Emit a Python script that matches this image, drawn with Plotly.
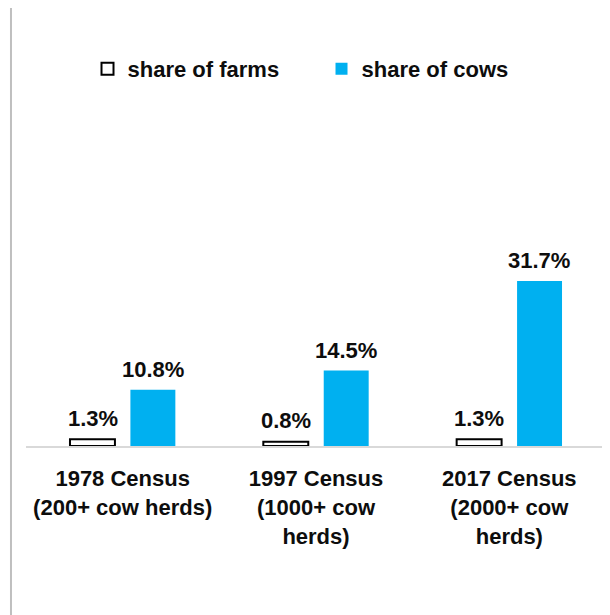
import plotly.graph_objects as go

categories = ["1978 Census<br>(200+ cow herds)", "1997 Census<br>(1000+ cow<br>herds)", "2017 Census<br>(2000+ cow<br>herds)"]
share_farms = [1.3, 0.8, 1.3]
share_cows = [10.8, 14.5, 31.7]
labels_farms = ["1.3%", "0.8%", "1.3%"]
labels_cows = ["10.8%", "14.5%", "31.7%"]

FONT = "Liberation Sans, Arial, sans-serif"
TXT = "#0d0d0d"

fig = go.Figure()
fig.add_trace(go.Bar(
    x=categories, y=share_farms, name="share of farms",
    marker=dict(color="white", line=dict(color="#000000", width=2)),
))
fig.add_trace(go.Bar(
    x=categories, y=share_cows, name="share of cows",
    marker=dict(color="#00B0F0", line=dict(width=0)),
))

for cat, v, t in zip(categories, share_farms, labels_farms):
    fig.add_annotation(x=cat, y=v, text=f"<b>{t}</b>", showarrow=False,
                       xshift=-30, yshift=21, yanchor="middle",
                       font=dict(family=FONT, size=22, color=TXT))
for cat, v, t in zip(categories, share_cows, labels_cows):
    fig.add_annotation(x=cat, y=v, text=f"<b>{t}</b>", showarrow=False,
                       xshift=30, yshift=20, yanchor="middle",
                       font=dict(family=FONT, size=22, color=TXT))

# left border line
fig.add_shape(type="line", xref="paper", yref="paper",
              x0=-0.0259, x1=-0.0259, y0=-0.6, y1=1.4,
              line=dict(color="#BFBFBF", width=2))

fig.update_layout(
    width=610, height=615,
    margin=dict(l=18, r=12, t=92, b=177),
    paper_bgcolor="white", plot_bgcolor="white",
    barmode="group", bargap=0.375, bargroupgap=0.256,
    font=dict(family=FONT, size=22, color=TXT),
    showlegend=True,
    legend=dict(orientation="h", x=0.5095, xanchor="center", y=1.0896, yanchor="middle",
                font=dict(family=FONT, size=22, color=TXT, weight="bold"),
                entrywidth=189, itemwidth=30, traceorder="normal"),
    xaxis=dict(showline=True, linecolor="#D9D9D9", linewidth=2, ticks="",
               showgrid=False, zeroline=False,
               tickfont=dict(family=FONT, size=22, color=TXT, weight="bold"),
               ticklabelstandoff=12),
    yaxis=dict(visible=False, range=[0, 66.47], showgrid=False, zeroline=False),
)

fig.write_html("out.html")
